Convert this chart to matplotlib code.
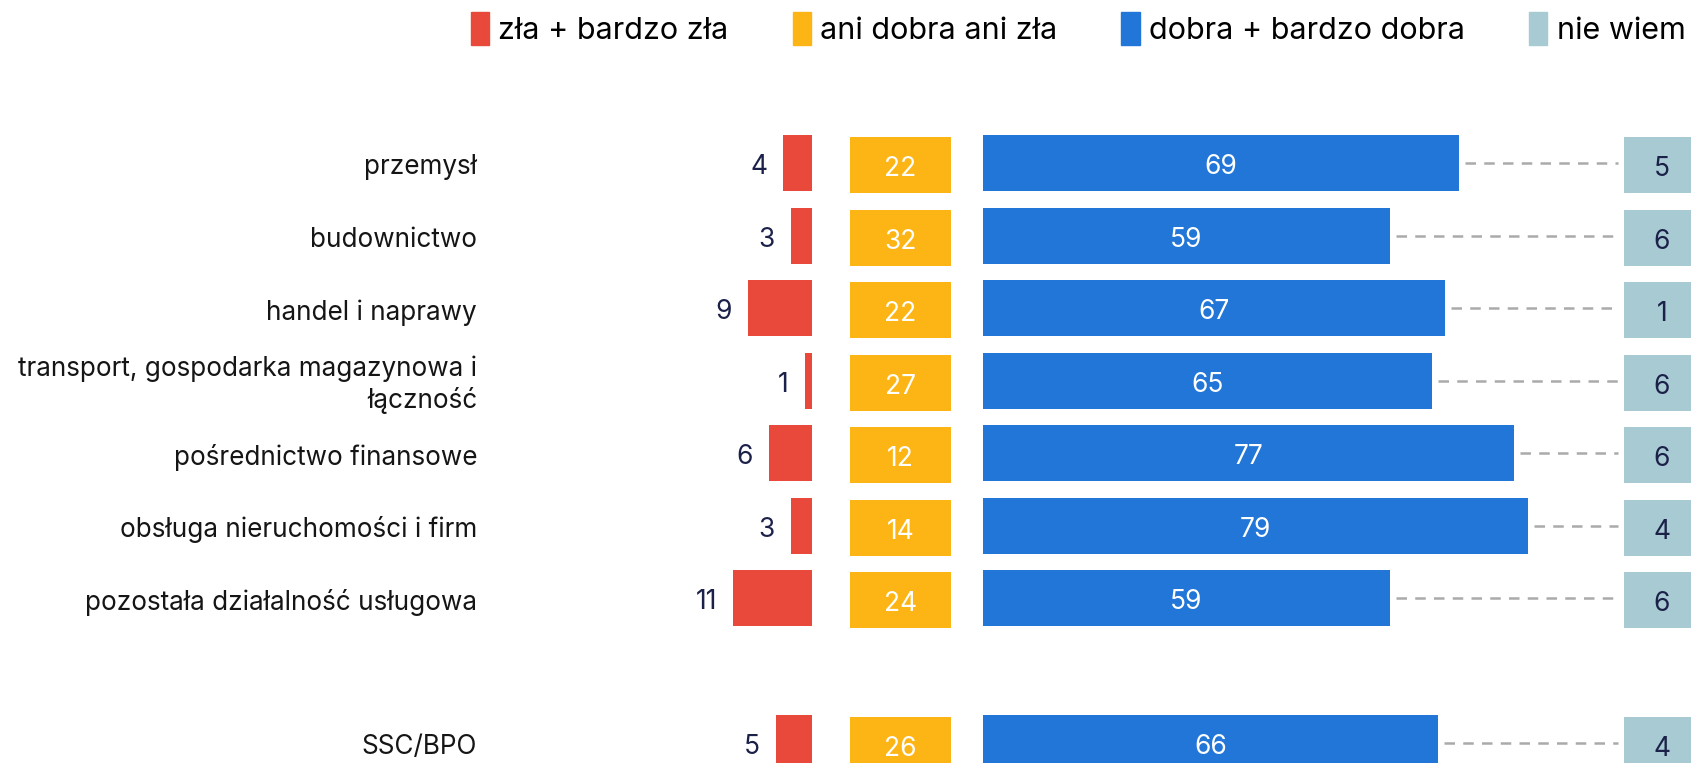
import numpy as np
import matplotlib.pyplot as plt
from matplotlib.patches import Patch

# data
categories = ["przemysł", "budownictwo", "handel i naprawy",
              "transport, gospodarka magazynowa i\nłączność",
              "pośrednictwo finansowe", "obsługa nieruchomości i firm",
              "pozostała działalność usługowa", "", "SSC/BPO"]
bad = [4, 3, 9, 1, 6, 3, 11, None, 5]
neutral = [22, 32, 22, 27, 12, 14, 24, None, 26]
good = [69, 59, 67, 65, 77, 79, 59, None, 66]
dont_know = [5, 6, 1, 6, 6, 4, 6, None, 4]
legend_labels = ["zła + bardzo zła", "ani dobra ani zła", "dobra + bardzo dobra", "nie wiem"]

RED, YELLOW, BLUE, GREY = "#E8493A", "#FDB515", "#2276D8", "#A8CAD3"
NAVY = "#1B2148"

plt.rcParams["font.family"] = ["Inter", "DejaVu Sans"]

W, H = 1691, 763
fig = plt.figure(figsize=(W / 100, H / 100), dpi=100)
ax = fig.add_axes([0, 0, 1, 1])

# layout in pixel-like x units
red_end = 812
red_k = 7.15
yel_left, yel_w = 850, 101
blue_left = 983
blue_k = 6.9
grey_left, grey_w = 1624, 76
row0, step = 163, 72.5
bh = 56 / step
off = 2 / step
toff = 0.06  # text sits a bit below the bar centre

ax.set_xlim(0, W)
ax.set_ylim((H - row0) / step, -row0 / step)
ax.axis("off")

fs = 18.8
nfs = 19
for i, cat in enumerate(categories):
    ax.text(477, i + toff, cat, ha="right", va="center", fontsize=fs,
            color="#151515", multialignment="right", linespacing=1.2)
    if bad[i] is None:
        continue
    w = bad[i] * red_k
    ax.barh(i, w, left=red_end - w, height=bh, color=RED)
    ax.text(red_end - w - 16, i + toff, str(bad[i]), ha="right", va="center",
            fontsize=nfs, color=NAVY)

    ax.barh(i + off, yel_w, left=yel_left, height=bh, color=YELLOW)
    ax.text(yel_left + yel_w / 2, i + off + toff, str(neutral[i]), ha="center",
            va="center", fontsize=nfs, color="white")

    gw = good[i] * blue_k
    ax.barh(i, gw, left=blue_left, height=bh, color=BLUE)
    ax.text(blue_left + gw / 2, i + toff, str(good[i]), ha="center", va="center",
            fontsize=nfs, color="white")

    ax.plot([blue_left + gw + 6, grey_left - 6], [i, i], color="#AAAAAA",
            lw=1.8, dashes=(4.2, 3.3))
    ax.barh(i + off, grey_w, left=grey_left, height=bh, color=GREY, clip_on=False)
    ax.text(grey_left + 38, i + off + toff, str(dont_know[i]), ha="center",
            va="center", fontsize=nfs, color=NAVY)

handles = [Patch(color=c) for c in [RED, YELLOW, BLUE, GREY]]
fig.legend(handles, legend_labels, ncol=4, loc="upper right",
           bbox_to_anchor=(1.013, 1.02), frameon=False, fontsize=22,
           handlelength=0.6, handleheight=1.25, handletextpad=0.3,
           columnspacing=2.1)

fig.savefig("out.png", dpi=100)
